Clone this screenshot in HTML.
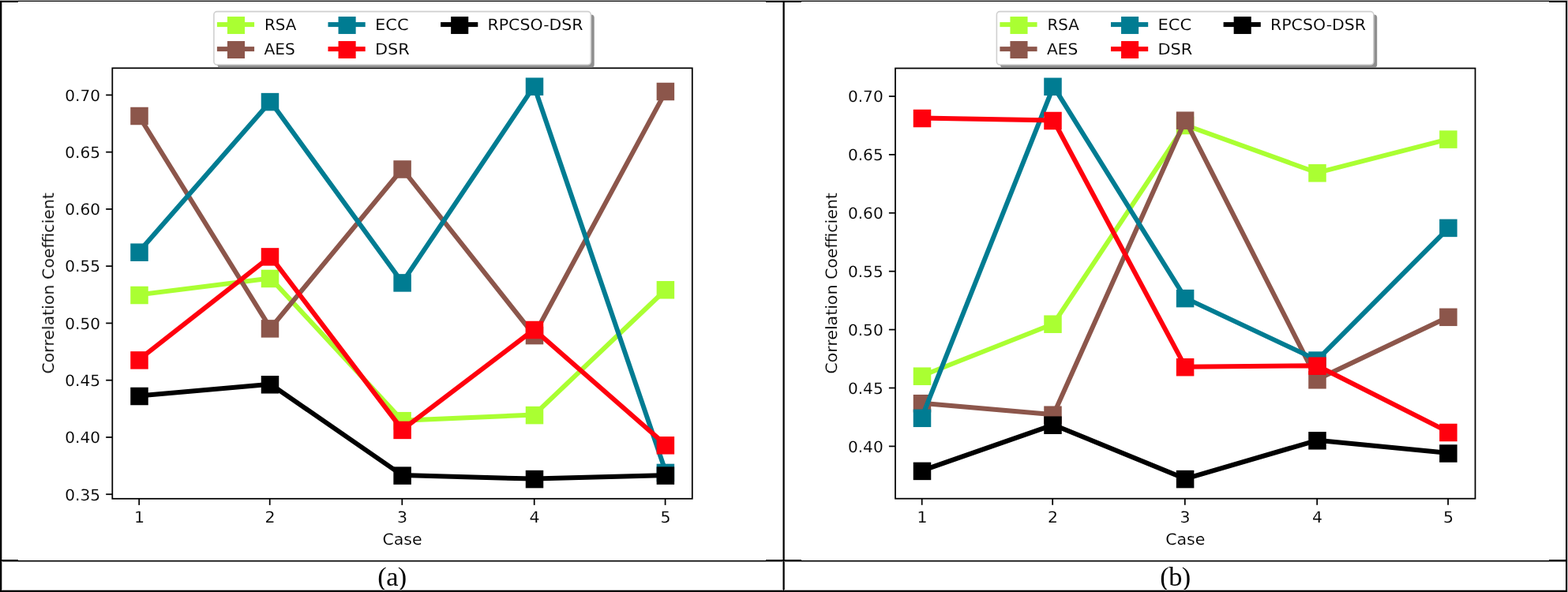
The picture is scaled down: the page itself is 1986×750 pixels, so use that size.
<!DOCTYPE html>
<html lang="en"><head><meta charset="utf-8"><title>Correlation Coefficient comparison</title>
<style>
html,body{margin:0;padding:0;background:#fff;}
body{width:1986px;height:750px;position:relative;overflow:hidden;font-family:"Liberation Serif","DejaVu Serif",serif;}
.b{position:absolute;background:#000;}
.cap{position:absolute;font-family:"Liberation Serif","DejaVu Serif",serif;font-size:34.4px;line-height:34px;color:#000;text-align:center;white-space:nowrap;letter-spacing:-0.6px;}
svg{position:absolute;left:0;top:0;}
svg text{font-family:"DejaVu Sans","Liberation Sans",sans-serif;font-size:20.5px;fill:#000;text-rendering:geometricPrecision;stroke:#fff;stroke-width:0.12px;paint-order:fill stroke;}
</style></head><body>
<svg width="1986" height="750" viewBox="0 0 1986 750">
<defs><filter id="soft" x="0" y="0" width="1986" height="750" filterUnits="userSpaceOnUse"><feGaussianBlur stdDeviation="0.6"/></filter></defs>
<g class="chart-a" filter="url(#soft)">
<polyline points="175.69,373.5 342.62,352.5 509.55,532.7 676.48,525.6 843.41,366.8" fill="none" stroke="#aaff32" stroke-width="6.0" stroke-linejoin="round" stroke-linecap="square"/>
<rect x="165.25" y="362.75" width="22.5" height="22.5" fill="#aaff32"/>
<rect x="330.75" y="341.75" width="22.5" height="22.5" fill="#aaff32"/>
<rect x="498.35" y="521.95" width="22.5" height="22.5" fill="#aaff32"/>
<rect x="665.75" y="514.85" width="22.5" height="22.5" fill="#aaff32"/>
<rect x="831.65" y="356.05" width="22.5" height="22.5" fill="#aaff32"/>
<polyline points="175.69,146.5 342.62,415.9 509.55,214 676.48,424.6 843.41,115.5" fill="none" stroke="#8c564b" stroke-width="6.0" stroke-linejoin="round" stroke-linecap="square"/>
<rect x="165.25" y="135.75" width="22.5" height="22.5" fill="#8c564b"/>
<rect x="330.75" y="405.15" width="22.5" height="22.5" fill="#8c564b"/>
<rect x="498.35" y="203.25" width="22.5" height="22.5" fill="#8c564b"/>
<rect x="665.75" y="413.85" width="22.5" height="22.5" fill="#8c564b"/>
<rect x="831.65" y="104.75" width="22.5" height="22.5" fill="#8c564b"/>
<polyline points="175.69,319.2 342.62,128.6 509.55,357.9 676.48,109.2 843.41,598.4" fill="none" stroke="#017b92" stroke-width="6.0" stroke-linejoin="round" stroke-linecap="square"/>
<rect x="165.25" y="308.45" width="22.5" height="22.5" fill="#017b92"/>
<rect x="330.75" y="117.85" width="22.5" height="22.5" fill="#017b92"/>
<rect x="498.35" y="347.15" width="22.5" height="22.5" fill="#017b92"/>
<rect x="665.75" y="98.45" width="22.5" height="22.5" fill="#017b92"/>
<rect x="831.65" y="587.65" width="22.5" height="22.5" fill="#017b92"/>
<polyline points="175.69,455.9 342.62,324.9 509.55,544.4 676.48,417.5 843.41,563.8" fill="none" stroke="#ff000d" stroke-width="6.0" stroke-linejoin="round" stroke-linecap="square"/>
<rect x="165.25" y="445.15" width="22.5" height="22.5" fill="#ff000d"/>
<rect x="330.75" y="314.15" width="22.5" height="22.5" fill="#ff000d"/>
<rect x="498.35" y="533.65" width="22.5" height="22.5" fill="#ff000d"/>
<rect x="665.75" y="406.75" width="22.5" height="22.5" fill="#ff000d"/>
<rect x="831.65" y="553.05" width="22.5" height="22.5" fill="#ff000d"/>
<polyline points="175.69,501.5 342.62,486.8 509.55,602.1 676.48,606.6 843.41,602.1" fill="none" stroke="#000000" stroke-width="6.0" stroke-linejoin="round" stroke-linecap="square"/>
<rect x="165.25" y="490.75" width="22.5" height="22.5" fill="#000000"/>
<rect x="330.75" y="476.05" width="22.5" height="22.5" fill="#000000"/>
<rect x="498.35" y="591.35" width="22.5" height="22.5" fill="#000000"/>
<rect x="665.75" y="595.85" width="22.5" height="22.5" fill="#000000"/>
<rect x="831.65" y="591.35" width="22.5" height="22.5" fill="#000000"/>
<line x1="134.2" y1="120.4" x2="142.3" y2="120.4" stroke="#000" stroke-width="1.75"/>
<text transform="translate(127 127.7) scale(0.98 0.96)" text-anchor="end">0.70</text>
<line x1="134.2" y1="192.66" x2="142.3" y2="192.66" stroke="#000" stroke-width="1.75"/>
<text transform="translate(127 199.96) scale(0.98 0.96)" text-anchor="end">0.65</text>
<line x1="134.2" y1="264.92" x2="142.3" y2="264.92" stroke="#000" stroke-width="1.75"/>
<text transform="translate(127 272.22) scale(0.98 0.96)" text-anchor="end">0.60</text>
<line x1="134.2" y1="337.18" x2="142.3" y2="337.18" stroke="#000" stroke-width="1.75"/>
<text transform="translate(127 344.48) scale(0.98 0.96)" text-anchor="end">0.55</text>
<line x1="134.2" y1="409.44" x2="142.3" y2="409.44" stroke="#000" stroke-width="1.75"/>
<text transform="translate(127 416.74) scale(0.98 0.96)" text-anchor="end">0.50</text>
<line x1="134.2" y1="481.7" x2="142.3" y2="481.7" stroke="#000" stroke-width="1.75"/>
<text transform="translate(127 489) scale(0.98 0.96)" text-anchor="end">0.45</text>
<line x1="134.2" y1="553.96" x2="142.3" y2="553.96" stroke="#000" stroke-width="1.75"/>
<text transform="translate(127 561.26) scale(0.98 0.96)" text-anchor="end">0.40</text>
<line x1="134.2" y1="626.22" x2="142.3" y2="626.22" stroke="#000" stroke-width="1.75"/>
<text transform="translate(127 633.52) scale(0.98 0.96)" text-anchor="end">0.35</text>
<line x1="176.2" y1="631.8" x2="176.2" y2="639.9" stroke="#000" stroke-width="1.75"/>
<text transform="translate(176.5 662.3) scale(1.0 0.96)" text-anchor="middle">1</text>
<line x1="341.7" y1="631.8" x2="341.7" y2="639.9" stroke="#000" stroke-width="1.75"/>
<text transform="translate(342 662.3) scale(1.0 0.96)" text-anchor="middle">2</text>
<line x1="509.3" y1="631.8" x2="509.3" y2="639.9" stroke="#000" stroke-width="1.75"/>
<text transform="translate(509.6 662.3) scale(1.0 0.96)" text-anchor="middle">3</text>
<line x1="676.7" y1="631.8" x2="676.7" y2="639.9" stroke="#000" stroke-width="1.75"/>
<text transform="translate(677 662.3) scale(1.0 0.96)" text-anchor="middle">4</text>
<line x1="842.6" y1="631.8" x2="842.6" y2="639.9" stroke="#000" stroke-width="1.75"/>
<text transform="translate(842.9 662.3) scale(1.0 0.96)" text-anchor="middle">5</text>
<rect x="142.3" y="86.3" width="734.5" height="545.5" fill="none" stroke="#000" stroke-width="1.75"/>
<text transform="translate(509.55 689.9) scale(1.0 0.96)" text-anchor="middle">Case</text>
<text transform="translate(68.2 358.85) rotate(-90) scale(1.0 0.96)" text-anchor="middle">Correlation Coefficient</text>
<rect x="275.3" y="18.4" width="477.4" height="67.4" rx="4" fill="#8f8f8f"/>
<rect x="270.9" y="14.6" width="477.4" height="67.4" rx="4" fill="#fff" stroke="#d0d0d0" stroke-width="1.6"/>
<rect x="274.9" y="28.1" width="47.2" height="6.0" fill="#aaff32"/>
<rect x="287.95" y="21.05" width="22.1" height="22.0" fill="#aaff32"/>
<text transform="translate(334.9 38.3) scale(0.97 0.96)">RSA</text>
<rect x="274.9" y="59.1" width="47.2" height="6.0" fill="#8c564b"/>
<rect x="287.95" y="52.05" width="22.1" height="22.0" fill="#8c564b"/>
<text transform="translate(334.5 69.3) scale(0.985 0.96)">AES</text>
<rect x="415.5" y="28.1" width="47.2" height="6.0" fill="#017b92"/>
<rect x="428.55" y="21.05" width="22.1" height="22.0" fill="#017b92"/>
<text transform="translate(474.9 38.3) scale(1.03 0.96)">ECC</text>
<rect x="415.5" y="59.1" width="47.2" height="6.0" fill="#ff000d"/>
<rect x="428.55" y="52.05" width="22.1" height="22.0" fill="#ff000d"/>
<text transform="translate(474.9 69.3) scale(1.02 0.96)">DSR</text>
<rect x="558.1" y="28.1" width="47.2" height="6.0" fill="#000000"/>
<rect x="571.15" y="21.05" width="22.1" height="22.0" fill="#000000"/>
<text transform="translate(617.5 38.3) scale(1.0 0.96)">RPCSO-DSR</text>
</g>
<g class="chart-b" filter="url(#soft)">
<polyline points="1167.39,476.2 1334.32,410.2 1501.25,158.5 1668.18,218.8 1835.11,176.1" fill="none" stroke="#aaff32" stroke-width="6.0" stroke-linejoin="round" stroke-linecap="square"/>
<rect x="1156.75" y="465.45" width="22.5" height="22.5" fill="#aaff32"/>
<rect x="1322.25" y="399.45" width="22.5" height="22.5" fill="#aaff32"/>
<rect x="1489.85" y="147.75" width="22.5" height="22.5" fill="#aaff32"/>
<rect x="1657.25" y="208.05" width="22.5" height="22.5" fill="#aaff32"/>
<rect x="1823.15" y="165.35" width="22.5" height="22.5" fill="#aaff32"/>
<polyline points="1167.39,510.7 1334.32,525.2 1501.25,152.2 1668.18,480.8 1835.11,401.3" fill="none" stroke="#8c564b" stroke-width="6.0" stroke-linejoin="round" stroke-linecap="square"/>
<rect x="1156.75" y="499.95" width="22.5" height="22.5" fill="#8c564b"/>
<rect x="1322.25" y="514.45" width="22.5" height="22.5" fill="#8c564b"/>
<rect x="1489.85" y="141.45" width="22.5" height="22.5" fill="#8c564b"/>
<rect x="1657.25" y="470.05" width="22.5" height="22.5" fill="#8c564b"/>
<rect x="1823.15" y="390.55" width="22.5" height="22.5" fill="#8c564b"/>
<polyline points="1167.39,529.3 1334.32,109.3 1501.25,377.6 1668.18,456.1 1835.11,288.4" fill="none" stroke="#017b92" stroke-width="6.0" stroke-linejoin="round" stroke-linecap="square"/>
<rect x="1156.75" y="518.55" width="22.5" height="22.5" fill="#017b92"/>
<rect x="1322.25" y="98.55" width="22.5" height="22.5" fill="#017b92"/>
<rect x="1489.85" y="366.85" width="22.5" height="22.5" fill="#017b92"/>
<rect x="1657.25" y="445.35" width="22.5" height="22.5" fill="#017b92"/>
<rect x="1823.15" y="277.65" width="22.5" height="22.5" fill="#017b92"/>
<polyline points="1167.39,149.5 1334.32,152.5 1501.25,464.7 1668.18,463.2 1835.11,547.5" fill="none" stroke="#ff000d" stroke-width="6.0" stroke-linejoin="round" stroke-linecap="square"/>
<rect x="1156.75" y="138.75" width="22.5" height="22.5" fill="#ff000d"/>
<rect x="1322.25" y="141.75" width="22.5" height="22.5" fill="#ff000d"/>
<rect x="1489.85" y="453.95" width="22.5" height="22.5" fill="#ff000d"/>
<rect x="1657.25" y="452.45" width="22.5" height="22.5" fill="#ff000d"/>
<rect x="1823.15" y="536.75" width="22.5" height="22.5" fill="#ff000d"/>
<polyline points="1167.39,596.4 1334.32,538.2 1501.25,606.6 1668.18,557.8 1835.11,574" fill="none" stroke="#000000" stroke-width="6.0" stroke-linejoin="round" stroke-linecap="square"/>
<rect x="1156.75" y="585.65" width="22.5" height="22.5" fill="#000000"/>
<rect x="1322.25" y="527.45" width="22.5" height="22.5" fill="#000000"/>
<rect x="1489.85" y="595.85" width="22.5" height="22.5" fill="#000000"/>
<rect x="1657.25" y="547.05" width="22.5" height="22.5" fill="#000000"/>
<rect x="1823.15" y="563.25" width="22.5" height="22.5" fill="#000000"/>
<line x1="1125.9" y1="122" x2="1134" y2="122" stroke="#000" stroke-width="1.75"/>
<text transform="translate(1118.7 129.3) scale(0.98 0.96)" text-anchor="end">0.70</text>
<line x1="1125.9" y1="195.9" x2="1134" y2="195.9" stroke="#000" stroke-width="1.75"/>
<text transform="translate(1118.7 203.2) scale(0.98 0.96)" text-anchor="end">0.65</text>
<line x1="1125.9" y1="269.8" x2="1134" y2="269.8" stroke="#000" stroke-width="1.75"/>
<text transform="translate(1118.7 277.1) scale(0.98 0.96)" text-anchor="end">0.60</text>
<line x1="1125.9" y1="343.7" x2="1134" y2="343.7" stroke="#000" stroke-width="1.75"/>
<text transform="translate(1118.7 351) scale(0.98 0.96)" text-anchor="end">0.55</text>
<line x1="1125.9" y1="417.6" x2="1134" y2="417.6" stroke="#000" stroke-width="1.75"/>
<text transform="translate(1118.7 424.9) scale(0.98 0.96)" text-anchor="end">0.50</text>
<line x1="1125.9" y1="491.5" x2="1134" y2="491.5" stroke="#000" stroke-width="1.75"/>
<text transform="translate(1118.7 498.8) scale(0.98 0.96)" text-anchor="end">0.45</text>
<line x1="1125.9" y1="565.4" x2="1134" y2="565.4" stroke="#000" stroke-width="1.75"/>
<text transform="translate(1118.7 572.7) scale(0.98 0.96)" text-anchor="end">0.40</text>
<line x1="1167.7" y1="631.7" x2="1167.7" y2="639.8" stroke="#000" stroke-width="1.75"/>
<text transform="translate(1168 662.3) scale(1.0 0.96)" text-anchor="middle">1</text>
<line x1="1333.2" y1="631.7" x2="1333.2" y2="639.8" stroke="#000" stroke-width="1.75"/>
<text transform="translate(1333.5 662.3) scale(1.0 0.96)" text-anchor="middle">2</text>
<line x1="1500.8" y1="631.7" x2="1500.8" y2="639.8" stroke="#000" stroke-width="1.75"/>
<text transform="translate(1501.1 662.3) scale(1.0 0.96)" text-anchor="middle">3</text>
<line x1="1668.2" y1="631.7" x2="1668.2" y2="639.8" stroke="#000" stroke-width="1.75"/>
<text transform="translate(1668.5 662.3) scale(1.0 0.96)" text-anchor="middle">4</text>
<line x1="1834.1" y1="631.7" x2="1834.1" y2="639.8" stroke="#000" stroke-width="1.75"/>
<text transform="translate(1834.4 662.3) scale(1.0 0.96)" text-anchor="middle">5</text>
<rect x="1134" y="86.5" width="734.5" height="545.2" fill="none" stroke="#000" stroke-width="1.75"/>
<text transform="translate(1501.25 689.9) scale(1.0 0.96)" text-anchor="middle">Case</text>
<text transform="translate(1059.7 358.9) rotate(-90) scale(1.0 0.96)" text-anchor="middle">Correlation Coefficient</text>
<rect x="1266.8" y="18.4" width="477.4" height="67.4" rx="4" fill="#8f8f8f"/>
<rect x="1262.4" y="14.6" width="477.4" height="67.4" rx="4" fill="#fff" stroke="#d0d0d0" stroke-width="1.6"/>
<rect x="1266.4" y="28.1" width="47.2" height="6.0" fill="#aaff32"/>
<rect x="1279.45" y="21.05" width="22.1" height="22.0" fill="#aaff32"/>
<text transform="translate(1326.4 38.3) scale(0.97 0.96)">RSA</text>
<rect x="1266.4" y="59.1" width="47.2" height="6.0" fill="#8c564b"/>
<rect x="1279.45" y="52.05" width="22.1" height="22.0" fill="#8c564b"/>
<text transform="translate(1326 69.3) scale(0.985 0.96)">AES</text>
<rect x="1407" y="28.1" width="47.2" height="6.0" fill="#017b92"/>
<rect x="1420.05" y="21.05" width="22.1" height="22.0" fill="#017b92"/>
<text transform="translate(1466.4 38.3) scale(1.03 0.96)">ECC</text>
<rect x="1407" y="59.1" width="47.2" height="6.0" fill="#ff000d"/>
<rect x="1420.05" y="52.05" width="22.1" height="22.0" fill="#ff000d"/>
<text transform="translate(1466.4 69.3) scale(1.02 0.96)">DSR</text>
<rect x="1549.6" y="28.1" width="47.2" height="6.0" fill="#000000"/>
<rect x="1562.65" y="21.05" width="22.1" height="22.0" fill="#000000"/>
<text transform="translate(1609 38.3) scale(1.0 0.96)">RPCSO-DSR</text>
</g>
</svg>
<div class="cap" style="left:2px;width:989px;top:713px;">(a)</div>
<div class="cap" style="left:994px;width:989px;top:713px;">(b)</div>
<div class="b" style="left:0px;top:0px;width:1986px;height:1px;background:#b4b4b4"></div>
<div class="b" style="left:1985px;top:0px;width:1px;height:750px;background:#c6c6c6"></div>
<div class="b" style="left:2px;top:3px;width:1px;height:745px;background:#b0b0b0"></div>
<div class="b" style="left:991px;top:3px;width:1px;height:745px;background:#808080"></div>
<div class="b" style="left:993px;top:3px;width:1px;height:745px;background:#404040"></div>
<div class="b" style="left:3px;top:709px;width:1980px;height:1px;background:#e4e4e4"></div>
<div class="b" style="left:3px;top:711px;width:1980px;height:1px;background:#787878"></div>
<div class="b" style="left:3px;top:747px;width:1980px;height:1px;background:#b4b4b4"></div>
<div class="b" style="left:0px;top:1px;width:1985px;height:1px"></div>
<div class="b" style="left:0px;top:2px;width:23px;height:1px"></div>
<div class="b" style="left:970px;top:2px;width:45px;height:1px"></div>
<div class="b" style="left:1962px;top:2px;width:23px;height:1px"></div>
<div class="b" style="left:0px;top:1px;width:2px;height:749px"></div>
<div class="b" style="left:1983px;top:1px;width:2px;height:749px"></div>
<div class="b" style="left:992px;top:1px;width:1px;height:749px"></div>
<div class="b" style="left:0px;top:710px;width:1985px;height:1px"></div>
<div class="b" style="left:0px;top:709px;width:23px;height:1px"></div>
<div class="b" style="left:970px;top:709px;width:45px;height:1px"></div>
<div class="b" style="left:1962px;top:709px;width:23px;height:1px"></div>
<div class="b" style="left:0px;top:748px;width:1985px;height:2px"></div>
</body></html>
